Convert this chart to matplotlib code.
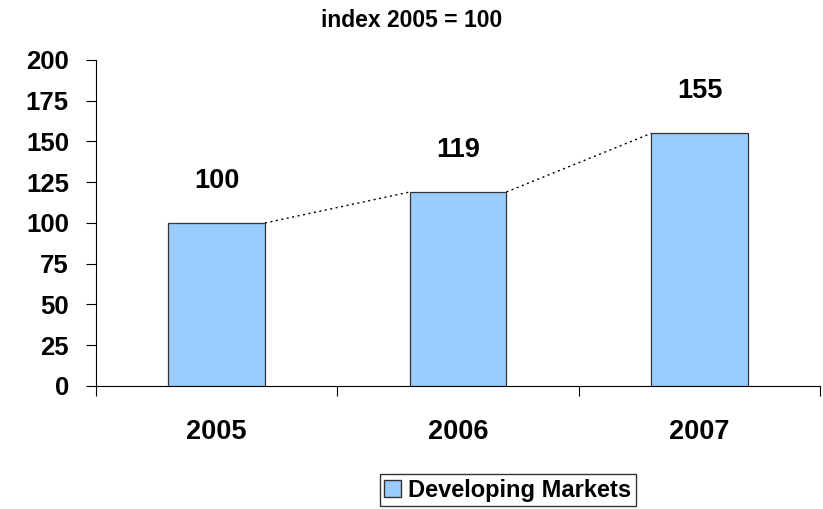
import numpy as np
import matplotlib.pyplot as plt
from matplotlib.patches import Patch

# data
years = ['2005', '2006', '2007']
values = [100, 119, 155]
series_name = 'Developing Markets'

plt.rcParams['font.family'] = ['Liberation Sans', 'DejaVu Sans']
plt.rcParams['font.weight'] = 'bold'

fig = plt.figure(figsize=(8.23, 5.09), dpi=100)
ax = fig.add_axes([0.1166, 0.2417, 0.88, 0.6405])

x = np.arange(len(years))
bw = 0.4
ax.bar(x, values, width=bw, color='#99CCFF', edgecolor='#333333', linewidth=0.9, zorder=3)

# dotted connectors between bar tops
for i in range(len(values) - 1):
    ax.plot([x[i] + bw / 2, x[i + 1] - bw / 2], [values[i], values[i + 1]],
            ls=(0, (1.5, 2.5)), color='black', lw=1.0, zorder=2)

for xi, v in zip(x, values):
    ax.text(xi, v + 21.5, str(v), ha='center', va='baseline', fontsize=19.5, fontweight='bold')

ax.set_xlim(-0.5, 2.5)
ax.set_ylim(0, 200)
ax.set_yticks(np.arange(0, 201, 25))
ax.set_yticklabels([str(t) for t in range(0, 201, 25)], fontsize=18.5, fontweight='bold')
ax.set_xticks([-0.5, 0.5, 1.5, 2.5])
ax.set_xticklabels([])
ax.set_xticks(x, minor=True)
ax.set_xticklabels(years, minor=True, fontsize=19.5, fontweight='bold')
ax.tick_params(axis='x', which='minor', length=0, pad=24)
ax.tick_params(axis='x', which='major', length=7.5, width=0.8, direction='out')
ax.tick_params(axis='y', length=7.5, width=0.8, direction='out', pad=12)

for s in ['top', 'right']:
    ax.spines[s].set_visible(False)
ax.spines['left'].set_linewidth(0.8)
ax.spines['bottom'].set_linewidth(0.8)

fig.text(0.5, 0.96, 'index 2005 = 100', ha='center', va='center', fontsize=16.5, fontweight='bold')

leg = fig.legend(handles=[Patch(facecolor='#99CCFF', edgecolor='#333333', label=series_name)],
                 loc='center', bbox_to_anchor=(0.617, 0.037), frameon=True, fancybox=False,
                 fontsize=17, handlelength=0.7, handleheight=0.7, handletextpad=0.3,
                 borderpad=0.2, borderaxespad=0)
leg.get_frame().set_edgecolor('black')
leg.get_frame().set_linewidth(1.0)
for t in leg.get_texts():
    t.set_fontweight('bold')

fig.savefig('out.png', dpi=100)
